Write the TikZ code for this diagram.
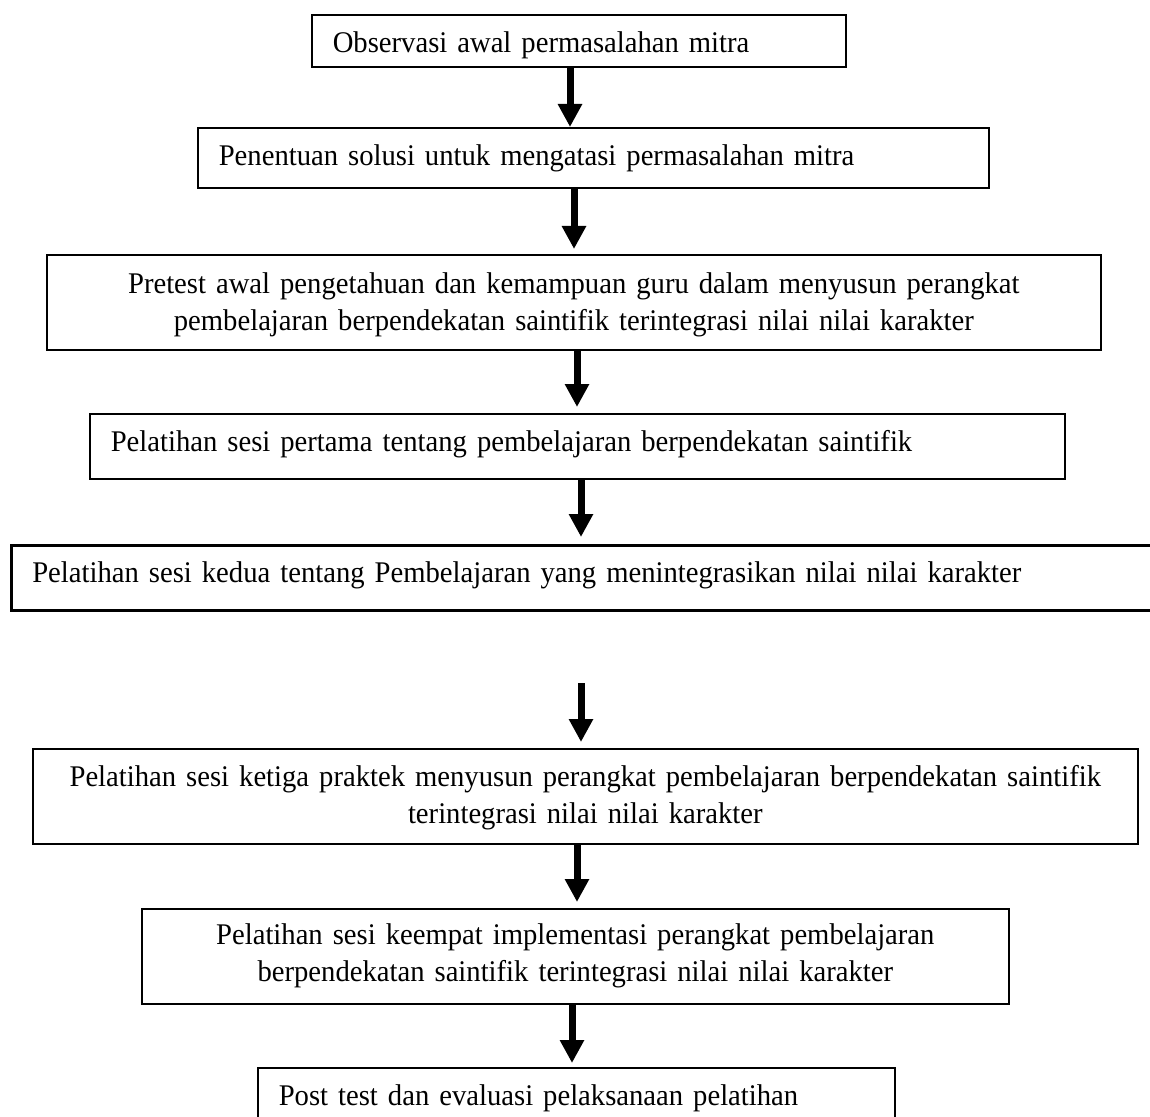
\documentclass[tikz,border=0pt]{standalone}
\usepackage{fontspec}
\setmainfont[FakeStretch=0.955]{Liberation Serif}
\usetikzlibrary{calc,arrows.meta}

\begin{document}
\begin{tikzpicture}[x=0.5pt,y=-0.5pt,
  stage/.style={draw, line width=0.8pt, anchor=north west, inner xsep=10.5pt, inner ysep=0pt,
    text height=19pt, font=\fontsize{15pt}{18.5pt}\selectfont},
  flow/.style={line width=3.5pt, -{Triangle[length=11.5pt,width=11.5pt]}}]
  \useasboundingbox (0,0) rectangle (1150,1117);

  %% Boxes for the stages of the activity
  \node[stage, text width=246pt, text depth=7pt, align=left] (obs) at (311,14)
    {Observasi awal permasalahan mitra};
  \node[stage, text width=374.5pt, text depth=11pt, align=left] (sol) at (197,127)
    {Penentuan solusi untuk mengatasi permasalahan mitra};
  \node[stage, inner xsep=4pt, text width=519pt, text height=19.5pt, text depth=28pt, align=center] (pre) at (46,254)
    {Pretest awal pengetahuan dan kemampuan guru dalam menyusun perangkat\\
     pembelajaran berpendekatan saintifik terintegrasi nilai nilai karakter};
  \node[stage, text width=466.5pt, text depth=13.5pt, align=left] (ses1) at (89,413)
    {Pelatihan sesi pertama tentang pembelajaran berpendekatan saintifik};
  \node[stage, line width=1.3pt, text width=554pt, text height=18.5pt, text depth=14pt, align=left] (ses2) at (10,544)
    {Pelatihan sesi kedua tentang Pembelajaran yang menintegrasikan nilai nilai karakter};
  \node[stage, inner xsep=3pt, text width=546.5pt, text depth=28.5pt, align=center] (ses3) at (32,748)
    {Pelatihan sesi ketiga praktek menyusun perangkat pembelajaran berpendekatan saintifik\\
     terintegrasi nilai nilai karakter};
  \node[stage, inner xsep=4pt, text width=425.5pt, text height=18pt, text depth=29.5pt, align=center] (ses4) at (141,908)
    {Pelatihan sesi keempat implementasi perangkat pembelajaran\\
     berpendekatan saintifik terintegrasi nilai nilai karakter};
  \node[stage, text width=297.5pt, text depth=15pt, align=left] (post) at (257,1067)
    {Post test dan evaluasi pelaksanaan pelatihan};

  %% Arrows from one stage to the next
  \foreach \from/\to/\ax/\gap in {obs/sol/570/0, sol/pre/574/2.5, pre/ses1/577/3,
                                  ses1/ses2/581/3.5, ses3/ses4/577/3, ses4/post/572/2}
  {
    \coordinate (X) at (\ax,0);
    \draw[flow, shorten >=\gap pt] (\from.south -| X) -- (\to.north -| X);
  }

  %% Arrow standing alone below the second session
  \coordinate (gapstart) at (581,683);
  \draw[flow, shorten >=3pt] (gapstart) -- (ses3.north -| gapstart);
\end{tikzpicture}
\end{document}
